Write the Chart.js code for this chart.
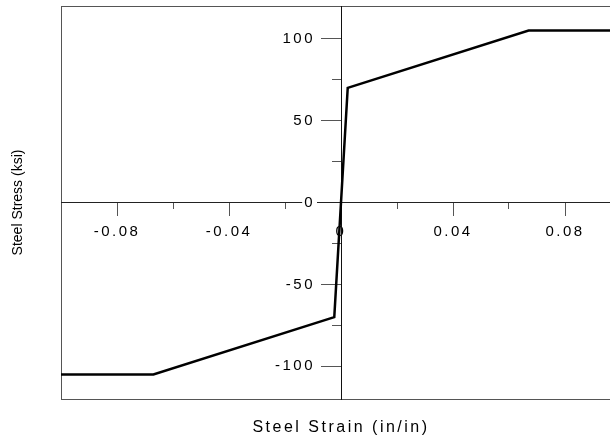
<!DOCTYPE html>
<html>
<head>
<meta charset="utf-8">
<script src="https://cdn.jsdelivr.net/npm/chart.js@4.4.1/dist/chart.umd.min.js"></script>
<style>
    html, body { margin: 0; padding: 0; background: #fff; overflow: hidden; }
    canvas { display: block; }
</style>
</head>
<body>
<canvas id="steelChart" width="630" height="438"></canvas>
<script>
// Steel stress-strain curve
const strain = [-0.1, -0.067, -0.0024, 0.0024, 0.067, 0.1];
const stress = [-105, -105, -70, 70, 105, 105];

// axis ranges and tick positions
const xRange = [-0.1, 0.1];
const yRange = [-120, 120];
const xMajorTicks = [-0.08, -0.04, 0, 0.04, 0.08];
const xMinorTicks = [-0.06, -0.02, 0.02, 0.06];
const yMajorTicks = [-100, -50, 0, 50, 100];
const yMinorTicks = [-75, -25, 25, 75];

const FONT = "'Liberation Sans', Arial, sans-serif";
Chart.defaults.font.family = FONT;
Chart.defaults.color = "#000";

function fixedTicks(values) {
    return (scale) => {
        scale.ticks = values.map((v) => ({ value: v }));
    };
}

// axes drawn inside the plot should not take any layout room
function noRoom(scale) {
    if (scale.isHorizontal()) scale.height = 0;
    else scale.width = 0;
    scale.paddingTop = scale.paddingBottom = 0;
    scale.paddingLeft = scale.paddingRight = 0;
}

// the reference text is drawn wide, so add some letter spacing
// (but keep the vertical title tight)
const SPACING = "2.5px";
const textSpacing = {
    id: "textSpacing",
    beforeLayout(chart) {
        chart.ctx.letterSpacing = SPACING;
    },
    afterLayout(chart) {
        const yAxis = chart.scales.y;
        if (yAxis && !yAxis._plainTitle) {
            const drawTitle = yAxis.drawTitle;
            yAxis.drawTitle = function () {
                const c = this.ctx;
                const old = c.letterSpacing;
                c.letterSpacing = "0px";
                drawTitle.call(this);
                c.letterSpacing = old;
            };
            yAxis._plainTitle = true;
        }
    },
    beforeDraw(chart) {
        chart.ctx.letterSpacing = SPACING;
    },
};

const frame = { display: true, color: "#555", width: 1 };

new Chart(document.getElementById("steelChart").getContext("2d"), {
    type: "line",
    data: {
        datasets: [
            {
                data: strain.map((s, i) => ({ x: s, y: stress[i] })),
                borderColor: "#000",
                borderWidth: 2.5,
                pointRadius: 0,
                tension: 0,
                fill: false,
            },
        ],
    },
    options: {
        responsive: false,
        animation: false,
        devicePixelRatio: 1,
        layout: { padding: { top: 0, right: 9, bottom: 0, left: 0 } },
        plugins: {
            legend: { display: false },
            tooltip: { enabled: false },
        },
        scales: {
            x: {
                type: "linear",
                position: "bottom",
                min: xRange[0],
                max: xRange[1],
                ticks: { display: false },
                grid: { display: false },
                border: frame,
                title: {
                    display: true,
                    text: "Steel Strain (in/in)",
                    font: { size: 16 },
                    padding: { top: 0, bottom: 1 },
                },
                afterFit: (s) => { s.height = 39; },
            },
            y: {
                type: "linear",
                position: "left",
                min: yRange[0],
                max: yRange[1],
                ticks: { display: false },
                grid: { display: false },
                border: frame,
                title: {
                    display: true,
                    text: "Steel Stress (ksi)",
                    font: { size: 14 },
                    padding: { top: 10, bottom: 0 },
                },
                afterFit: (s) => { s.width = 61; },
            },
            xTop: {
                type: "linear",
                position: "top",
                min: xRange[0],
                max: xRange[1],
                ticks: { display: false },
                grid: { display: false },
                border: frame,
                afterFit: (s) => { s.height = 6; },
            },
            // axes crossing at the origin
            xc: {
                type: "linear",
                position: { y: 0 },
                min: xRange[0],
                max: xRange[1],
                afterBuildTicks: fixedTicks(xMajorTicks),
                ticks: {
                    autoSkip: false,
                    maxRotation: 0,
                    padding: 7,
                    font: { size: 15 },
                    callback: (v) => String(v),
                },
                grid: { drawOnChartArea: false, tickLength: 13, tickColor: "#555" },
                border: { color: "#222", width: 1 },
                afterFit: noRoom,
            },
            xm: {
                type: "linear",
                position: { y: 0 },
                min: xRange[0],
                max: xRange[1],
                afterBuildTicks: fixedTicks(xMinorTicks),
                ticks: { display: false },
                grid: { drawOnChartArea: false, tickLength: 6, tickColor: "#555" },
                border: { display: false },
                afterFit: noRoom,
            },
            // x range is symmetric, so the centre of the plot is x = 0
            yc: {
                type: "linear",
                position: "center",
                min: yRange[0],
                max: yRange[1],
                afterBuildTicks: fixedTicks(yMajorTicks),
                ticks: {
                    autoSkip: false,
                    padding: 6,
                    font: { size: 15 },
                    showLabelBackdrop: true,
                    backdropColor: "#fff",
                    backdropPadding: 2,
                    callback: (v) => String(v),
                },
                grid: { drawOnChartArea: false, tickLength: 20, tickColor: "#555" },
                border: { color: "#111", width: 1 },
                afterFit: noRoom,
            },
            ym: {
                type: "linear",
                position: "center",
                min: yRange[0],
                max: yRange[1],
                afterBuildTicks: fixedTicks(yMinorTicks),
                ticks: { display: false },
                grid: { drawOnChartArea: false, tickLength: 9, tickColor: "#555" },
                border: { display: false },
                afterFit: noRoom,
            },
        },
    },
    plugins: [textSpacing],
});
</script>
</body>
</html>
